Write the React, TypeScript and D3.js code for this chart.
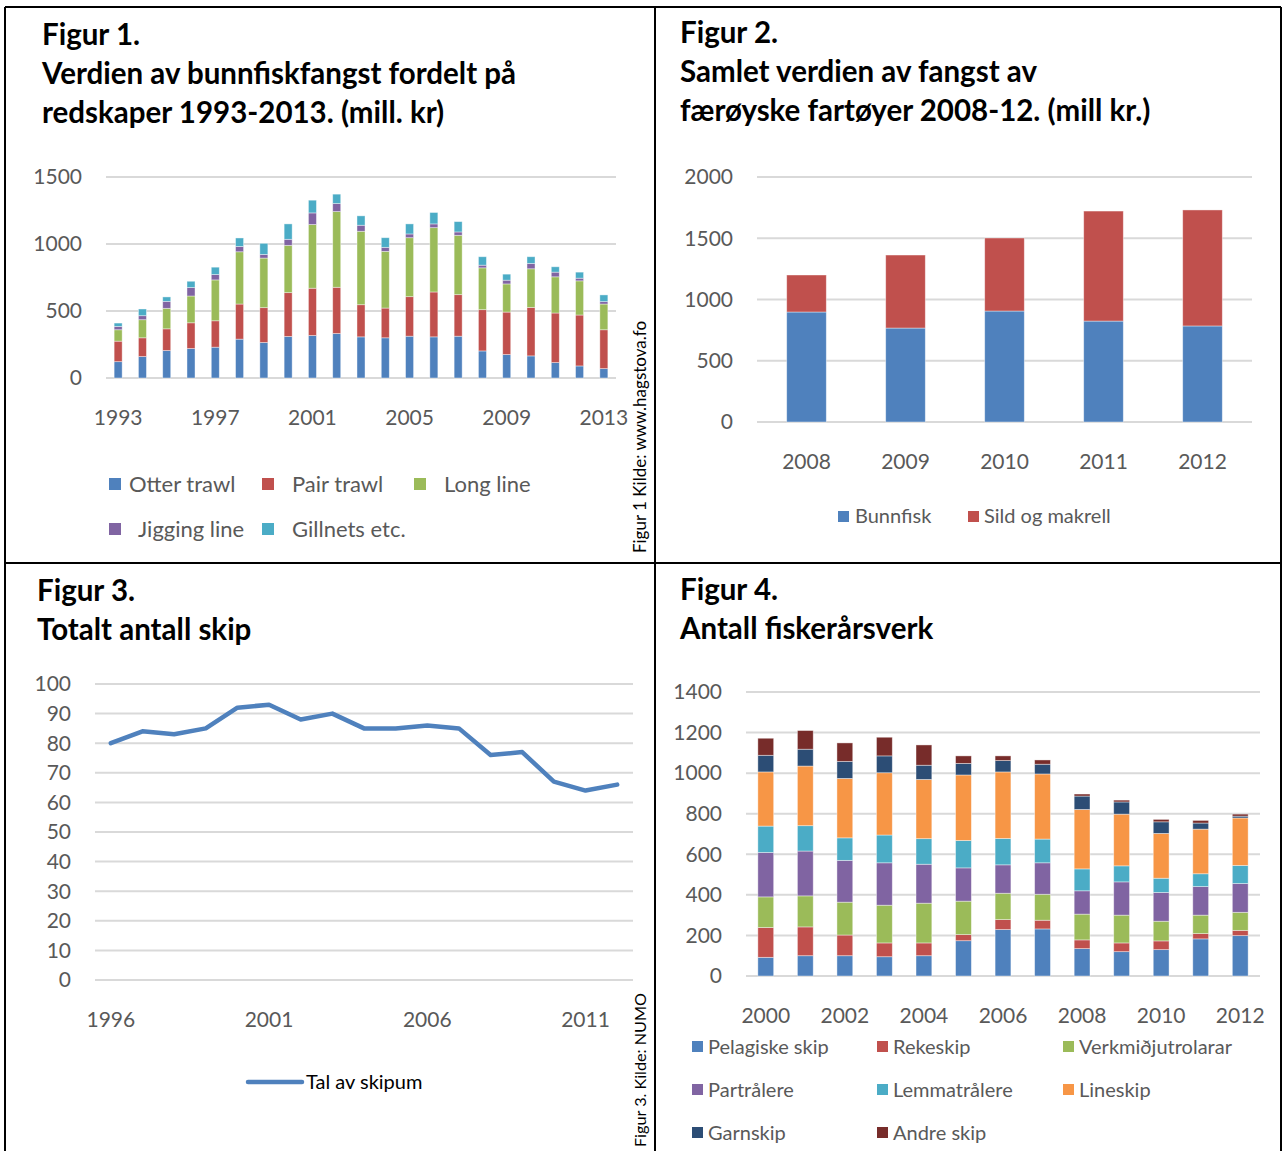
import React from 'react';
import * as d3 from 'd3';

// Figur 1 - bunnfisk by gear, mill. kr
const years1 = d3.range(1993, 2014);
const otterTrawl = [122, 160, 205, 220, 230, 290, 265, 310, 317, 332, 307, 300, 312, 307, 312, 202, 175, 165, 115, 90, 70];
const pairTrawl = [153, 140, 162, 192, 197, 262, 260, 327, 353, 345, 240, 222, 295, 335, 310, 308, 317, 362, 370, 380, 290];
const longLine = [85, 135, 153, 200, 305, 390, 370, 353, 475, 565, 548, 423, 440, 480, 443, 312, 210, 288, 270, 255, 192];
const jiggingLine = [25, 30, 52, 63, 40, 40, 27, 45, 87, 60, 45, 30, 28, 28, 25, 20, 28, 40, 35, 20, 18];
const gillnets = [25, 50, 33, 47, 55, 63, 83, 115, 95, 70, 70, 72, 75, 85, 77, 63, 45, 50, 40, 45, 50];
const fig1Ticks = [0, 500, 1000, 1500];
const fig1Labels = [1993, 1997, 2001, 2005, 2009, 2013];

// Figur 2 - samlet verdi
const years2 = [2008, 2009, 2010, 2011, 2012];
const bunnfisk = [898, 767, 906, 824, 784];
const sildMakrell = [302, 596, 596, 898, 947];
const fig2Ticks = [0, 500, 1000, 1500, 2000];

// Figur 3 - antall skip
const years3 = d3.range(1996, 2013);
const skip = [80, 84, 83, 85, 92, 93, 88, 90, 85, 85, 86, 85, 76, 77, 67, 64, 66];
const fig3Ticks = d3.range(0, 101, 10);
const fig3Labels = [1996, 2001, 2006, 2011];

// Figur 4 - fiskerårsverk
const years4 = d3.range(2000, 2013);
const pelagiske = [92, 100, 100, 95, 100, 174, 229, 232, 135, 120, 130, 183, 199];
const rekeskip = [147, 142, 102, 68, 63, 30, 49, 43, 43, 43, 43, 26, 26];
const verkmidju = [151, 153, 162, 186, 196, 165, 130, 128, 127, 137, 97, 91, 89];
const partralere = [219, 221, 206, 209, 192, 164, 140, 155, 115, 164, 142, 141, 142];
const lemmatralere = [130, 125, 111, 137, 126, 135, 130, 117, 108, 79, 70, 63, 89];
const lineskip = [267, 294, 293, 307, 292, 323, 328, 321, 293, 255, 221, 220, 234];
const garnskip = [82, 83, 84, 83, 70, 57, 56, 48, 66, 60, 57, 30, 9];
const andreskip = [84, 92, 91, 92, 100, 37, 23, 21, 10, 9, 12, 13, 10];
const fig4Ticks = d3.range(0, 1401, 200);
const fig4Labels = d3.range(2000, 2013, 2);

const C = {
  blue: '#4f81bd', red: '#c0504d', green: '#9bbb59', purple: '#8064a2',
  cyan: '#4bacc6', orange: '#f79646', navy: '#2c4d75', dred: '#772c2a',
};
const GRID = '#d9d9d9';
const TXT = '#595959';
const FONT = 'Lato, "Open Sans", sans-serif';
const TITLE = 29.5;

type Series = { name: string; values: number[]; color: string };

function stackRects(keys: number[], series: Series[], x: d3.ScaleBand<number>, y: d3.ScaleLinear<number, number>) {
  const rows = keys.map((k, i) => {
    const r: any = { key: k };
    series.forEach((s) => { r[s.name] = s.values[i]; });
    return r;
  });
  const stacked = d3.stack<any>().keys(series.map((s) => s.name))(rows);
  return stacked.map((layer, li) => (
    <g key={series[li].name} fill={series[li].color}>
      {layer.map((d) => (
        <rect key={d.data.key} x={x(d.data.key)} width={x.bandwidth()}
          y={y(d[1])} height={y(d[0]) - y(d[1])}
          stroke="#ffffff" strokeOpacity={0.5} strokeWidth={0.8} />
      ))}
    </g>
  ));
}

function Grid({ ticks, y, x0, x1 }: any) {
  return (
    <g>
      {ticks.map((t: number) => (
        <line key={t} x1={x0} x2={x1} y1={y(t)} y2={y(t)} stroke={GRID} strokeWidth={2} />
      ))}
    </g>
  );
}

function YLabels({ ticks, y, xr, size }: any) {
  return (
    <g fill={TXT} fontSize={size} textAnchor="end">
      {ticks.map((t: number) => (
        <text key={t} x={xr} y={y(t)} dy="0.35em">{t}</text>
      ))}
    </g>
  );
}

function Figur1() {
  const x = d3.scaleBand<number>().domain(years1).range([106, 616]).paddingInner(0.67).paddingOuter(0.335);
  const y = d3.scaleLinear().domain([0, 1500]).range([378, 177]);
  const series: Series[] = [
    { name: 'Otter trawl', values: otterTrawl, color: C.blue },
    { name: 'Pair trawl', values: pairTrawl, color: C.red },
    { name: 'Long line', values: longLine, color: C.green },
    { name: 'Jigging line', values: jiggingLine, color: C.purple },
    { name: 'Gillnets etc.', values: gillnets, color: C.cyan },
  ];
  const legend = [
    { s: series[0], sx: 109, tx: 129, ty: 484 },
    { s: series[1], sx: 262, tx: 292, ty: 484 },
    { s: series[2], sx: 414, tx: 444, ty: 484 },
    { s: series[3], sx: 109, tx: 138, ty: 529 },
    { s: series[4], sx: 262, tx: 292, ty: 529 },
  ];
  return (
    <g>
      <g fontWeight="bold" fontSize={TITLE} fill="#000">
        <text x={42} y={45}>Figur 1.</text>
        <text x={42} y={84}>Verdien av bunnfiskfangst fordelt på</text>
        <text x={42} y={123}>redskaper 1993-2013. (mill. kr)</text>
      </g>
      <Grid ticks={fig1Ticks} y={y} x0={106} x1={616} />
      {stackRects(years1, series, x, y)}
      <YLabels ticks={fig1Ticks} y={y} xr={82} size={21} />
      <g fill={TXT} fontSize={21} textAnchor="middle">
        {fig1Labels.map((yr) => (
          <text key={yr} x={x(yr)! + x.bandwidth() / 2} y={418} dy="0.35em">{yr}</text>
        ))}
      </g>
      <g fill={TXT} fontSize={22}>
        {legend.map((l) => (
          <g key={l.s.name}>
            <rect x={l.sx} y={l.ty - 6} width={12} height={12} fill={l.s.color} />
            <text x={l.tx} y={l.ty} dy="0.35em">{l.s.name}</text>
          </g>
        ))}
      </g>
    </g>
  );
}

function Figur2() {
  const x = d3.scaleBand<number>().domain(years2).range([757, 1252]).paddingInner(0.6).paddingOuter(0.3);
  const y = d3.scaleLinear().domain([0, 2000]).range([422, 177]);
  const series: Series[] = [
    { name: 'Bunnfisk', values: bunnfisk, color: C.blue },
    { name: 'Sild og makrell', values: sildMakrell, color: C.red },
  ];
  return (
    <g>
      <g fontWeight="bold" fontSize={TITLE} fill="#000">
        <text x={680} y={43}>Figur 2.</text>
        <text x={680} y={82}>Samlet verdien av fangst av</text>
        <text x={680} y={121}>færøyske fartøyer 2008-12. (mill kr.)</text>
      </g>
      <Grid ticks={fig2Ticks} y={y} x0={757} x1={1252} />
      {stackRects(years2, series, x, y)}
      <YLabels ticks={fig2Ticks} y={y} xr={733} size={21} />
      <g fill={TXT} fontSize={21} textAnchor="middle">
        {years2.map((yr) => (
          <text key={yr} x={x(yr)! + x.bandwidth() / 2} y={462} dy="0.35em">{yr}</text>
        ))}
      </g>
      <g fill={TXT} fontSize={20}>
        <rect x={838} y={511} width={11} height={11} fill={C.blue} />
        <text x={855} y={516} dy="0.35em">Bunnfisk</text>
        <rect x={968} y={511} width={11} height={11} fill={C.red} />
        <text x={984} y={516} dy="0.35em">Sild og makrell</text>
      </g>
    </g>
  );
}

function Figur3() {
  const x = d3.scalePoint<number>().domain(years3).range([95, 633]).padding(0.5);
  const y = d3.scaleLinear().domain([0, 100]).range([980, 684]);
  const line = d3.line<number>().x((_, i) => x(years3[i])!).y((d) => y(d));
  return (
    <g>
      <g fontWeight="bold" fontSize={TITLE} fill="#000">
        <text x={37} y={601}>Figur 3.</text>
        <text x={37} y={640}>Totalt antall skip</text>
      </g>
      <Grid ticks={fig3Ticks} y={y} x0={95} x1={633} />
      <path d={line(skip)!} fill="none" stroke={C.blue} strokeWidth={4.5} strokeLinejoin="round" strokeLinecap="round" />
      <YLabels ticks={fig3Ticks} y={y} xr={71} size={21} />
      <g fill={TXT} fontSize={21} textAnchor="middle">
        {fig3Labels.map((yr) => (
          <text key={yr} x={x(yr)} y={1020} dy="0.35em">{yr}</text>
        ))}
      </g>
      <line x1={248} x2={302} y1={1082} y2={1082} stroke={C.blue} strokeWidth={4.5} strokeLinecap="round" />
      <text x={306} y={1082} dy="0.35em" fontSize={20} fill="#000">Tal av skipum</text>
    </g>
  );
}

function Figur4() {
  const x = d3.scaleBand<number>().domain(years4).range([746, 1260]).paddingInner(0.6).paddingOuter(0.3);
  const y = d3.scaleLinear().domain([0, 1400]).range([976, 692]);
  const series: Series[] = [
    { name: 'Pelagiske skip', values: pelagiske, color: C.blue },
    { name: 'Rekeskip', values: rekeskip, color: C.red },
    { name: 'Verkmiðjutrolarar', values: verkmidju, color: C.green },
    { name: 'Partrålere', values: partralere, color: C.purple },
    { name: 'Lemmatrålere', values: lemmatralere, color: C.cyan },
    { name: 'Lineskip', values: lineskip, color: C.orange },
    { name: 'Garnskip', values: garnskip, color: C.navy },
    { name: 'Andre skip', values: andreskip, color: C.dred },
  ];
  const cols = [692, 877, 1063];
  const rows = [1047, 1090, 1133];
  return (
    <g>
      <g fontWeight="bold" fontSize={TITLE} fill="#000">
        <text x={680} y={600}>Figur 4.</text>
        <text x={680} y={639}>Antall fiskerårsverk</text>
      </g>
      <Grid ticks={fig4Ticks} y={y} x0={746} x1={1260} />
      {stackRects(years4, series, x, y)}
      <YLabels ticks={fig4Ticks} y={y} xr={722} size={21} />
      <g fill={TXT} fontSize={21} textAnchor="middle">
        {fig4Labels.map((yr) => (
          <text key={yr} x={x(yr)! + x.bandwidth() / 2} y={1016} dy="0.35em">{yr}</text>
        ))}
      </g>
      <g fill={TXT} fontSize={20}>
        {series.map((s, i) => (
          <g key={s.name}>
            <rect x={cols[i % 3]} y={rows[Math.floor(i / 3)] - 6} width={11} height={11} fill={s.color} />
            <text x={cols[i % 3] + 16} y={rows[Math.floor(i / 3)]} dy="0.35em">{s.name}</text>
          </g>
        ))}
      </g>
    </g>
  );
}

export default function App() {
  return (
    <div style={{ position: 'absolute', left: 0, top: 0 }}>
      <svg width={1282} height={1151} style={{ display: 'block', fontFamily: FONT }}>
        <rect width={1282} height={1151} fill="#fff" />
        <Figur1 />
        <Figur2 />
        <Figur3 />
        <Figur4 />
        <g fill="#000">
          <text transform="translate(646,437) rotate(-90)" textAnchor="middle" fontSize={17}>Figur 1 Kilde: www.hagstova.fo</text>
          <text transform="translate(646,1070) rotate(-90)" textAnchor="middle" fontSize={16.2}>Figur 3. Kilde: NUMO</text>
        </g>
        <g stroke="#000" strokeWidth={2} fill="none">
          <line x1={5} x2={1281} y1={7} y2={7} />
          <line x1={5} x2={1281} y1={563} y2={563} />
          <line x1={5} x2={5} y1={7} y2={1151} />
          <line x1={655} x2={655} y1={7} y2={1151} />
          <line x1={1281} x2={1281} y1={7} y2={1151} />
        </g>
      </svg>
    </div>
  );
}
